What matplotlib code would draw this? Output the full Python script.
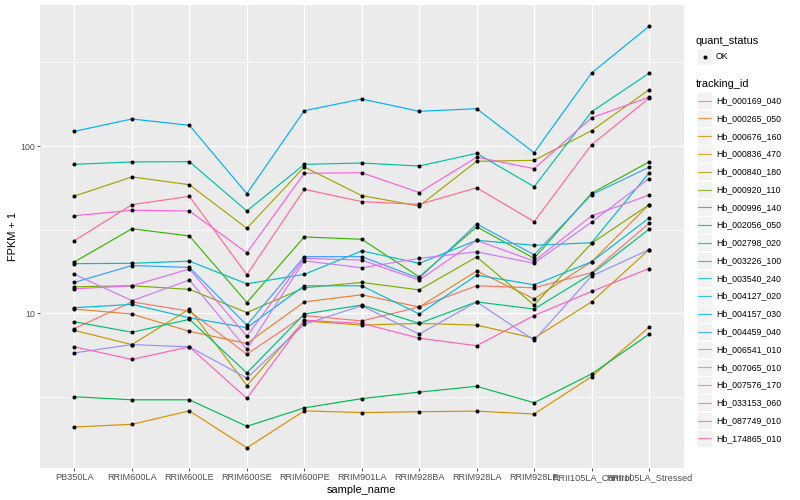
import matplotlib
matplotlib.use("Agg")
import matplotlib.pyplot as plt
from matplotlib.patches import Rectangle
from matplotlib.lines import Line2D

plt.rcParams['font.family'] = ['Liberation Sans', 'DejaVu Sans']

samples = ["PB350LA", "RRIM600LA", "RRIM600LE", "RRIM600SE", "RRIM600PE",
           "RRIM901LA", "RRIM928BA", "RRIM928LA", "RRIM928LE",
           "RRII105LA_Control", "RRII105LA_Stressed"]

tracking_ids = ["Hb_000169_040", "Hb_000265_050", "Hb_000676_160", "Hb_000836_470",
                "Hb_000840_180", "Hb_000920_110", "Hb_000996_140", "Hb_002056_050",
                "Hb_002798_020", "Hb_003226_100", "Hb_003540_240", "Hb_004127_020",
                "Hb_004157_030", "Hb_004459_040", "Hb_006541_010", "Hb_007065_010",
                "Hb_007576_170", "Hb_033153_060", "Hb_087749_010", "Hb_174865_010"]

colors = ["#F8766D", "#EA8331", "#D89000", "#C09B00", "#A3A500", "#7CAE00",
          "#39B600", "#00BB4E", "#00BF7D", "#00C1A3", "#00BFC4", "#00BAE0",
          "#00B0F6", "#35A2FF", "#9590FF", "#C77CFF", "#E76BF3", "#FA62DB",
          "#FF62BC", "#FF6C91"]

# FPKM + 1 values per tracking id (one value per sample)
hb_000169_040 = [8.1, 11.7, 10.3, 5.7, 9.7, 9.0, 10.9, 14.6, 14.2, 17.5, 34.5]
hb_000265_050 = [10.6, 9.9, 7.8, 6.6, 11.7, 12.9, 10.9, 17.9, 12.2, 20.3, 44.6]
hb_000676_160 = [2.09, 2.17, 2.61, 1.57, 2.61, 2.55, 2.58, 2.60, 2.50, 4.18, 8.25]
hb_000836_470 = [7.9, 6.5, 10.6, 3.7, 9.0, 8.5, 8.7, 8.5, 7.1, 11.7, 24.0]
hb_000840_180 = [50.2, 65.3, 58.7, 32.2, 74.9, 50.5, 43.8, 81.0, 82.1, 123.5, 217.0]
hb_000920_110 = [14.4, 14.6, 13.9, 10.1, 14.2, 15.3, 13.8, 21.7, 11.2, 26.2, 44.6]
hb_000996_140 = [20.3, 32.0, 29.0, 11.6, 28.6, 27.7, 16.5, 32.9, 21.3, 52.2, 80.3]
hb_002056_050 = [3.17, 3.04, 3.04, 2.11, 2.72, 3.09, 3.38, 3.66, 2.92, 4.34, 7.49]
hb_002798_020 = [8.9, 7.7, 9.2, 4.4, 9.9, 11.2, 8.7, 11.7, 10.6, 17.2, 31.8]
hb_003226_100 = [77.7, 80.3, 80.6, 40.9, 77.7, 79.1, 75.9, 90.4, 57.1, 160.3, 272.0]
hb_003540_240 = [19.8, 19.9, 20.5, 15.0, 17.1, 23.6, 19.9, 27.3, 25.5, 26.4, 69.0]
hb_004127_020 = [10.8, 11.3, 9.4, 8.2, 14.6, 14.6, 9.9, 16.9, 14.8, 20.3, 37.1]
hb_004157_030 = [122.4, 145.0, 133.0, 51.9, 162.5, 190.9, 161.2, 167.1, 91.2, 273.2, 519.3]
hb_004459_040 = [15.3, 19.3, 18.8, 8.5, 21.8, 21.8, 16.2, 34.2, 22.4, 51.2, 74.6]
hb_006541_010 = [5.8, 6.5, 6.3, 4.1, 8.6, 11.1, 7.5, 11.7, 6.9, 16.7, 24.0]
hb_007065_010 = [17.1, 11.9, 15.8, 6.1, 20.6, 18.7, 21.3, 23.3, 19.9, 35.1, 63.8]
hb_007576_170 = [14.0, 14.6, 18.4, 7.3, 21.3, 20.8, 15.8, 27.3, 20.5, 38.2, 50.9]
hb_033153_060 = [38.3, 41.3, 40.9, 23.0, 68.7, 69.2, 52.7, 85.7, 73.2, 147.6, 195.5]
hb_087749_010 = [6.3, 5.3, 6.3, 3.1, 9.1, 8.7, 7.1, 6.4, 9.7, 13.5, 18.5]
hb_174865_010 = [27.2, 44.6, 50.0, 17.0, 55.1, 46.5, 44.8, 56.3, 35.3, 101.8, 192.8]

series = [hb_000169_040, hb_000265_050, hb_000676_160, hb_000836_470, hb_000840_180,
          hb_000920_110, hb_000996_140, hb_002056_050, hb_002798_020, hb_003226_100,
          hb_003540_240, hb_004127_020, hb_004157_030, hb_004459_040, hb_006541_010,
          hb_007065_010, hb_007576_170, hb_033153_060, hb_087749_010, hb_174865_010]

W, H = 800, 500
fig = plt.figure(figsize=(W / 100, H / 100), dpi=100)

def fx(x):
    return x / W

def fy(y):
    return 1 - y / H

left, right, top, bottom = 40, 683.5, 5, 468
ax = fig.add_axes([fx(left), fy(bottom), (right - left) / W, (bottom - top) / H])
ax.set_facecolor("#EBEBEB")
for s in ax.spines.values():
    s.set_visible(False)

xs = list(range(len(samples)))
for vals, col in zip(series, colors):
    ax.plot(xs, vals, color=col, lw=0.85, zorder=3)
    ax.plot(xs, vals, ls="none", marker="o", ms=2.9, mfc="black", mec="black",
            mew=0, zorder=4)

ax.set_yscale("log")
ax.set_ylim(1.189, 696.4)
ax.set_xlim(-0.6, len(samples) - 1 + 0.6)

ax.set_yticks([10, 100])
ax.set_yticklabels(["10", "100"])
ax.set_yticks([10 ** 0.5, 10 ** 1.5, 10 ** 2.5], minor=True)
ax.set_yticklabels([], minor=True)
ax.set_xticks(xs)
ax.set_xticklabels(samples)
ax.tick_params(axis="both", which="major", length=2.2, width=0.6, color="#333333",
               labelsize=6.3, labelcolor="#4D4D4D", pad=1.5)
ax.tick_params(axis="x", which="major", labelsize=6.6)
ax.tick_params(axis="both", which="minor", length=0)

ax.grid(True, which="major", color="white", lw=1.0, zorder=0)
ax.grid(True, which="minor", axis="y", color="white", lw=0.5, zorder=0)
ax.set_axisbelow(True)

ax.set_xlabel("sample_name", fontsize=7.9, labelpad=2)
ax.set_ylabel("FPKM + 1", fontsize=7.9, labelpad=1.5)

# legend: quant_status
fig.text(fx(696), fy(40.5), "quant_status", fontsize=7.9, va="center", ha="left")
fig.add_artist(Rectangle((fx(697), fy(65)), 15 / W, 16.5 / H, transform=fig.transFigure,
                         facecolor="#F2F2F2", edgecolor="white", lw=0.5))
fig.add_artist(Line2D([fx(704.5)], [fy(56.7)], transform=fig.transFigure, ls="none",
                      marker="o", ms=2.9, mfc="black", mec="black", mew=0))
fig.text(fx(716), fy(56.7), "OK", fontsize=6.3, va="center", ha="left")

# legend: tracking_id
fig.text(fx(696), fy(84), "tracking_id", fontsize=7.9, va="center", ha="left")
y0, dy = 100.7, 17.77
for i, (name, col) in enumerate(zip(tracking_ids, colors)):
    yc = y0 + i * dy
    fig.add_artist(Rectangle((fx(697), fy(yc + 8.6)), 15 / W, 17.2 / H,
                             transform=fig.transFigure, facecolor="#F2F2F2",
                             edgecolor="white", lw=0.5))
    fig.add_artist(Line2D([fx(698), fx(711)], [fy(yc), fy(yc)], transform=fig.transFigure,
                          color=col, lw=0.85, alpha=0.8))
    fig.text(fx(716), fy(yc), name, fontsize=6.3, va="center", ha="left")

fig.savefig("out.png", dpi=100)
